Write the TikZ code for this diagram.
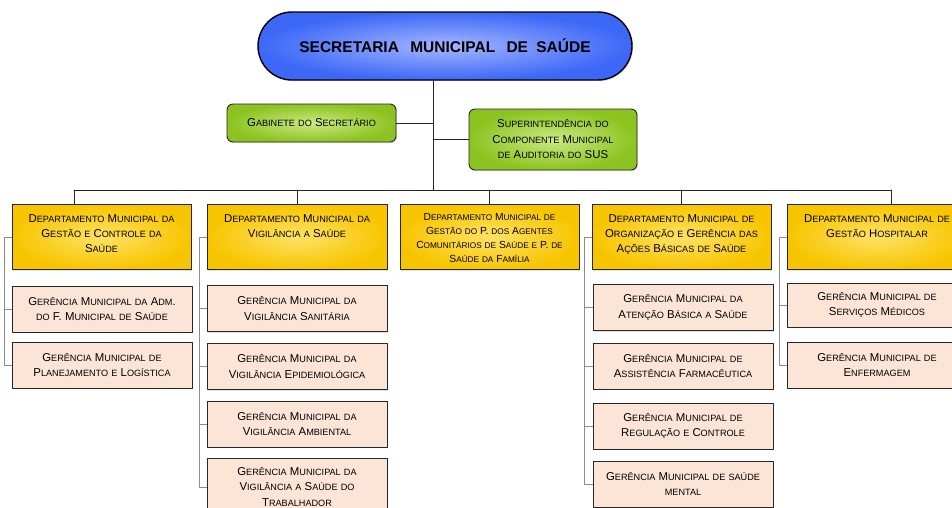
\documentclass[tikz,border=0pt]{standalone}
\usepackage{fontspec}
\setmainfont{Liberation Sans}
\usetikzlibrary{shadows}
\definecolor{blueOut}{HTML}{3D68F7}
\definecolor{blueIn}{HTML}{A3B6FF}
\definecolor{greenOut}{HTML}{8CC320}
\definecolor{greenIn}{HTML}{CBE982}
\definecolor{goldOut}{HTML}{F7C500}
\definecolor{goldIn}{HTML}{FFE266}
\definecolor{peach}{HTML}{FCE4D6}
% small capitals made by hand
\makeatletter
\newcommand\fscsmall{\fontsize{\fpeval{0.8*\f@size}}{\f@baselineskip}\selectfont}
\makeatother
\def\fscstop{FSCSTOP}
\newcommand\fsc[1]{\fscwords#1 \fscend}
\def\fscwords#1 #2\fscend{\fscword{#1}\ifx\relax#2\relax\else\space\fscwords#2\fscend\fi}
\def\fscword#1{\fscchar#1\fscstop}
\def\fscchar#1{\ifx#1\fscstop\else\fscone{#1}\expandafter\fscchar\fi}
\def\fscone#1{\ifnum\uccode`#1=0 #1\else\ifnum\uccode`#1=`#1 #1\else{\fscsmall\uppercase{#1}}\fi\fi}
% text of a departamento, hanging from its first line
\newcommand\depttext[1]{\parbox[t]{172pt}{\centering #1}}
\begin{document}
\begin{tikzpicture}[line cap=round,line join=round,x=1pt,y=-1pt,
  box/.style={draw=black!85,line width=0.9pt,minimum width=180,
    font=\fontsize{11.4}{15.5}\selectfont,
    drop shadow={opacity=0.25,shadow xshift=1.2pt,shadow yshift=-1.2pt}},
  dept/.style={box,anchor=north,inner color=goldIn,outer color=goldOut,
    font=\fontsize{11.4}{15}\selectfont,
    inner ysep=8pt,text height=10pt,text depth=39pt},
  gerencia/.style={box,align=center,fill=peach,minimum height=46},
  staff/.style={box,align=center,rounded corners=6pt,inner color=greenIn,outer color=greenOut},
  link/.style={draw=black!85,line width=0.9pt},
  bracket/.style={draw=black!45,line width=0.9pt}]
  \useasboundingbox (0,0) rectangle (952,507);
  \clip (0,0) rectangle (952,507);
  \node[box,minimum width=374,minimum height=68,rounded corners=34pt,
    line width=1.4pt,draw=black,inner color=blueIn,outer color=blueOut,
    font=\bfseries\fontsize{15.5}{18}\selectfont] (title) at (445,46)
    {SECRETARIA\hspace{7pt} MUNICIPAL\hspace{7pt} DE\hspace{4pt} SAÚDE};
  \node[staff,minimum width=169,minimum height=38] (gab) at (311.5,123) {\fsc{Gabinete do Secretário}};
  \node[staff,minimum width=168,minimum height=61] (sup) at (553,139.5)
    {\fsc{Superintendência do}\\\fsc{Componente Municipal}\\\fsc{de Auditoria do SUS}};
  % departamentos
  \node[dept,minimum width=179] (d1) at (101.5,204)
    {\depttext{\fsc{Departamento Municipal da}\\\fsc{Gestão e Controle da}\\\fsc{Saúde}}};
  \node[dept] (d2) at (297,204)
    {\depttext{\fsc{Departamento Municipal da}\\\fsc{Vigilância a Saúde}}};
  \node[dept,minimum width=179,font=\fontsize{10.3}{14}\selectfont,text height=8pt,text depth=41pt] (d3) at (489.5,204)
    {\depttext{\fsc{Departamento Municipal de}\\\fsc{Gestão do P. dos Agentes}\\\fsc{Comunitários de Saúde e P. de}\\\fsc{Saúde da Família}}};
  \node[dept,minimum width=179] (d4) at (681.5,204)
    {\depttext{\fsc{Departamento Municipal de}\\\fsc{Organização e Gerência das}\\\fsc{Ações Básicas de Saúde}}};
  \node[dept] (d5) at (877,204)
    {\depttext{\fsc{Departamento Municipal de}\\\fsc{Gestão Hospitalar}}};
  % gerencias
  \node[gerencia] (g11) at (102,309) {\fsc{Gerência Municipal da Adm.}\\\fsc{do F. Municipal de Saúde}};
  \node[gerencia] (g12) at (102,365) {\fsc{Gerência Municipal de}\\\fsc{Planejamento e Logística}};
  \node[gerencia] (g21) at (297,308.5) {\fsc{Gerência Municipal da}\\\fsc{Vigilância Sanitária}};
  \node[gerencia] (g22) at (297,366.5) {\fsc{Gerência Municipal da}\\\fsc{Vigilância Epidemiológica}};
  \node[gerencia] (g23) at (297,424) {\fsc{Gerência Municipal da}\\\fsc{Vigilância Ambiental}};
  \node[gerencia,minimum height=58] (g24) at (297,487) {\fsc{Gerência Municipal da}\\\fsc{Vigilância a Saúde do}\\\fsc{Trabalhador}};
  \node[gerencia] (g41) at (683,307.5) {\fsc{Gerência Municipal da}\\\fsc{Atenção Básica a Saúde}};
  \node[gerencia] (g42) at (683,366) {\fsc{Gerência Municipal de}\\\fsc{Assistência Farmacêutica}};
  \node[gerencia] (g43) at (683,426) {\fsc{Gerência Municipal de}\\\fsc{Regulação e Controle}};
  \node[gerencia] (g44) at (683,484) {\fsc{Gerência Municipal de saúde}\\\fsc{mental}};
  \node[gerencia,minimum height=44] (g51) at (877,305) {\fsc{Gerência Municipal de}\\\fsc{Serviços Médicos}};
  \node[gerencia] (g52) at (877,365) {\fsc{Gerência Municipal de}\\\fsc{Enfermagem}};
  % ligacoes
  \coordinate (spine) at (433,190);
  \coordinate (b1) at (74,190);
  \coordinate (b5) at (891,190);
  \draw[link] (spine |- title.south) -- (spine);
  \draw[link] (gab.east) -- (gab.east -| spine);
  \draw[link] (sup.west) -- (sup.west -| spine);
  \draw[link] (b1) -- (b5);
  \draw[link] (b1) -- (b1 |- d1.north);
  \draw[link] (d2.north |- b1) -- (d2.north);
  \draw[link] (d3.north |- b1) -- (d3.north);
  \draw[link] (d4.north |- b1) -- (d4.north);
  \draw[link] (b5) -- (b5 |- d5.north);
  \foreach \d/\g in {d1/g11,d1/g12,d2/g21,d2/g22,d2/g23,d2/g24,d4/g41,d4/g42,d4/g43,d4/g44,d5/g51,d5/g52}
    \draw[bracket] (\d.west) -- ++(-7,0) |- (\g.west);
\end{tikzpicture}
\end{document}
